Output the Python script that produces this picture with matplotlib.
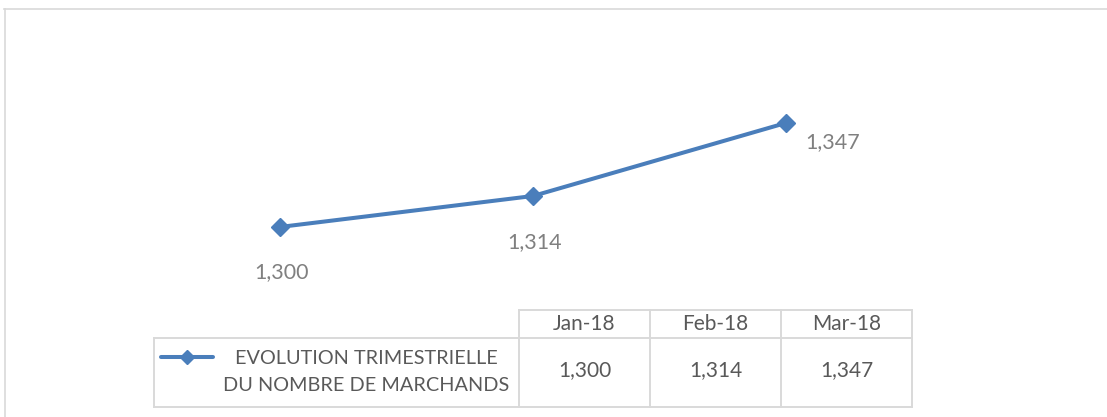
import matplotlib.pyplot as plt
from matplotlib.lines import Line2D

plt.rcParams['font.family'] = ['Lato', 'DejaVu Sans']

months = ['Jan-18', 'Feb-18', 'Mar-18']
marchands = [1300, 1314, 1347]
series_name = 'EVOLUTION TRIMESTRIELLE\nDU NOMBRE DE MARCHANDS'

W, H = 1107, 417
line_col = '#4A7EBB'
grid_col = '#D9D9D9'
label_col = '#808080'
table_col = '#595959'

fig = plt.figure(figsize=(W / 100, H / 100), dpi=100)


def fx(px):
    return px / W


def fy(py):
    return 1 - py / H


# plot area: categories centred in 253 px slots starting at x=153.5
ax = fig.add_axes([fx(153.5), fy(300), fx(912.5) - fx(153.5), fy(30) - fy(300)])
x = list(range(len(months)))
ax.plot(x, marchands, color=line_col, linewidth=2.9, marker='D', markersize=9,
        solid_capstyle='round')
ax.set_xlim(-0.5, len(months) - 0.5)
ax.set_ylim(1267, 1389)
ax.axis('off')

# data labels (Excel style: below for first two, right for last)
offsets = [(2, -45), (2, -46), (47, -19)]
for xi, v, (dx, dy) in zip(x, marchands, offsets):
    ax.annotate(f'{v:,}', (xi, v), xytext=(dx * 0.72, dy * 0.72), textcoords='offset points',
                ha='center', va='center', fontsize=15.5, color=label_col)

# outer chart border
fig.add_artist(Line2D([fx(4), fx(W)], [fy(8.5), fy(8.5)], color=grid_col, lw=1.2))
fig.add_artist(Line2D([fx(4.5), fx(4.5)], [fy(8.5), fy(H)], color=grid_col, lw=1.2))

# data table
cols = [519, 650, 781, 912]
top, mid, bot = 310, 338, 407
leg_left = 154
tl = dict(color=grid_col, lw=1.4)
fig.add_artist(Line2D([fx(cols[0]), fx(cols[-1])], [fy(top), fy(top)], **tl))
fig.add_artist(Line2D([fx(leg_left), fx(cols[-1])], [fy(mid), fy(mid)], **tl))
fig.add_artist(Line2D([fx(leg_left), fx(cols[-1])], [fy(bot), fy(bot)], **tl))
fig.add_artist(Line2D([fx(leg_left), fx(leg_left)], [fy(mid), fy(bot)], **tl))
for c in cols:
    fig.add_artist(Line2D([fx(c), fx(c)], [fy(top), fy(bot)], **tl))

for i, (m, v) in enumerate(zip(months, marchands)):
    cx = (cols[i] + cols[i + 1]) / 2
    fig.text(fx(cx), fy((top + mid) / 2), m, ha='center', va='center',
             fontsize=15, color=table_col)
    fig.text(fx(cx), fy((mid + bot) / 2 - 2), f'{v:,}', ha='center', va='center',
             fontsize=15, color=table_col)

# legend key inside the table
fig.add_artist(Line2D([fx(161), fx(213)], [fy(357), fy(357)], color=line_col, lw=2.9,
                      solid_capstyle='round'))
fig.add_artist(Line2D([fx(187)], [fy(357)], color=line_col, marker='D', markersize=7))
fig.text(fx(366), fy(372), series_name, ha='center', va='center', fontsize=14.3,
         color=table_col, linespacing=1.7)

fig.savefig('out.png', dpi=100)
